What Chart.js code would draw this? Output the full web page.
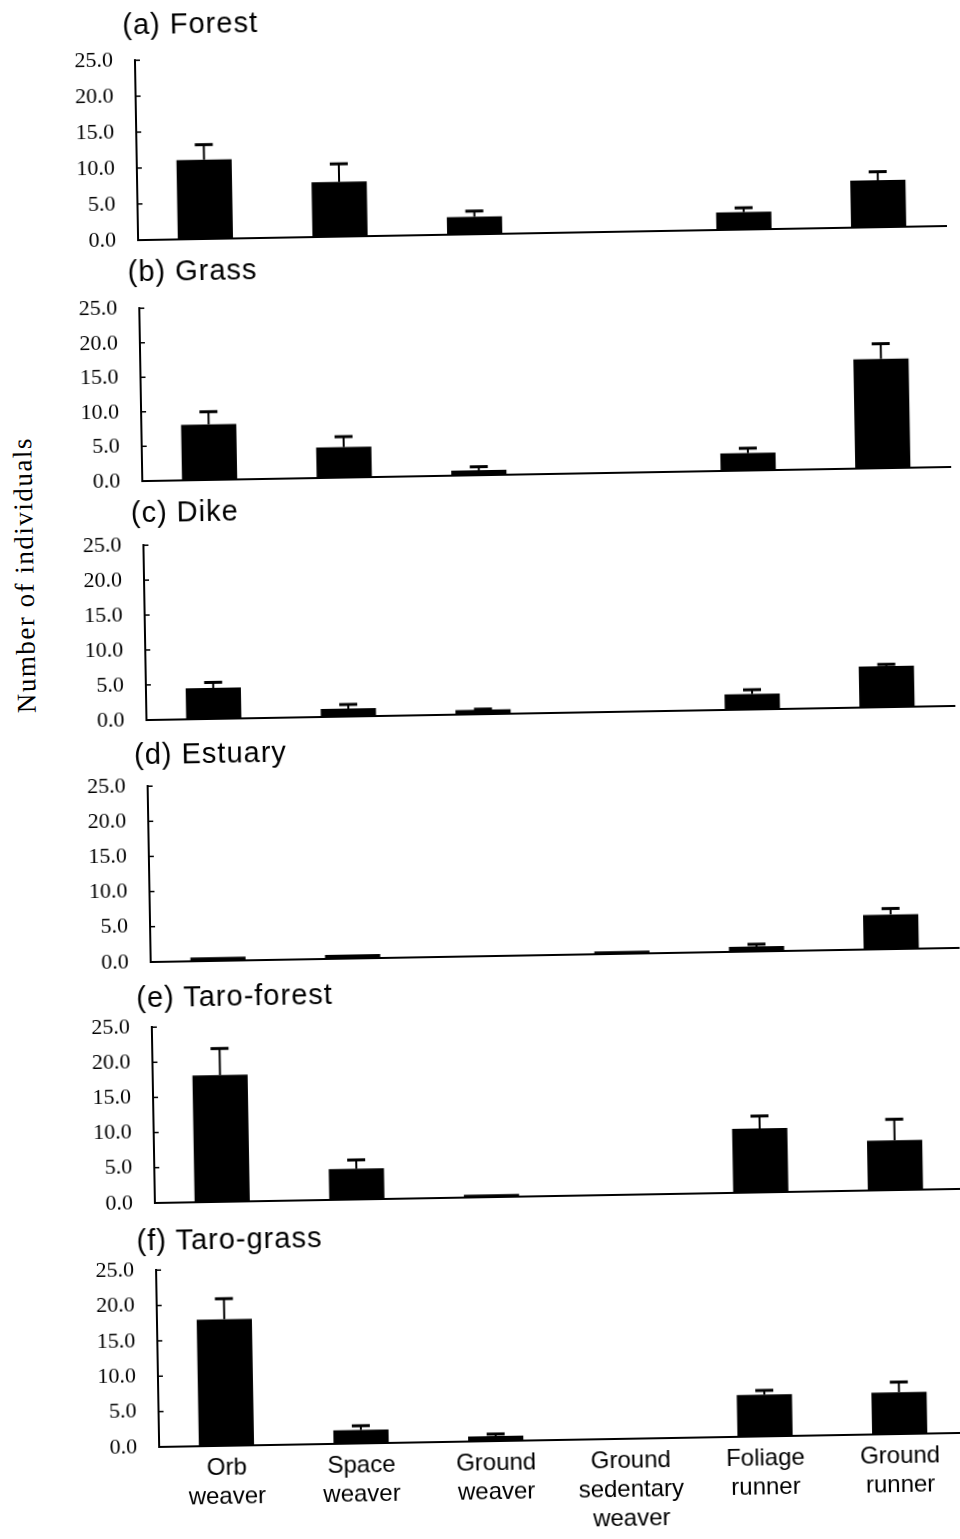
<!DOCTYPE html>
<html><head><meta charset="utf-8">
<script src="https://cdn.jsdelivr.net/npm/chart.js@4.4.1/dist/chart.umd.min.js"></script>
<style>
html,body{margin:0;padding:0;background:#fff;overflow:hidden;width:960px;height:1539px;}
#page{position:relative;width:1000px;height:1600px;transform:rotate(-1deg);transform-origin:150px 750px;}
canvas{position:absolute;left:0;}
.ttl{position:absolute;font-family:"Liberation Sans",Arial,sans-serif;font-size:29px;letter-spacing:1px;line-height:1;white-space:nowrap;color:#000;}
#ylab{position:absolute;left:28px;top:573px;transform:translate(-50%,-50%) rotate(-90deg);font-family:"Liberation Serif","Times New Roman",serif;font-size:27px;letter-spacing:1.5px;white-space:nowrap;color:#000;}
</style></head><body>
<div id="page"><div id="ylab">Number of individuals</div></div>
<script>
// ---- data ----
const categories = [['Orb','weaver'],['Space','weaver'],['Ground','weaver'],['Ground','sedentary','weaver'],['Foliage','runner'],['Ground','runner']];
const yTickLabels = ['0.0','5.0','10.0','15.0','20.0','25.0'];
const panelTitles = ['(a) Forest','(b) Grass','(c) Dike','(d) Estuary','(e) Taro-forest','(f) Taro-grass'];

const forest        = [11.0, 7.6, 2.4, 0, 2.4, 6.5];
const forestErr     = [2.1, 2.5, 0.8, 0, 0.6, 1.2];
const grass         = [8.0, 4.4, 0.7, 0, 2.5, 15.8];
const grassErr      = [1.85, 1.5, 0.5, 0, 0.7, 2.2];
const dike          = [4.4, 1.1, 0.6, 0, 2.2, 5.85];
const dikeErr       = [0.8, 0.6, 0.1, 0, 0.6, 0.25];
const estuary       = [0.5, 0.55, 0, 0.35, 0.7, 4.9];
const estuaryErr    = [0, 0, 0, 0, 0.3, 0.85];
const taroForest    = [18.0, 4.35, 0.35, 0, 9.1, 7.05];
const taroForestErr = [3.8, 1.25, 0, 0, 1.75, 3.0];
const taroGrass     = [17.9, 1.9, 0.7, 0, 5.9, 5.9];
const taroGrassErr  = [2.9, 0.6, 0.3, 0, 0.6, 1.45];

const seriesValues = [forest, grass, dike, estuary, taroForest, taroGrass];
const seriesErrors = [forestErr, grassErr, dikeErr, estuaryErr, taroForestErr, taroGrassErr];

// ---- layout (positions only) ----
const layout = [
  {y25:60,   y0:240,  tx:135, ty:24},
  {y25:308,  y0:481,  tx:136, ty:271},
  {y25:545,  y0:720,  tx:135, ty:512},
  {y25:786,  y0:962,  tx:134, ty:754},
  {y25:1027, y0:1203, tx:132, ty:997},
  {y25:1270, y0:1447, tx:128, ty:1240}
];
const AXIS_X = 147, PLOT_W = 808, CANVAS_W = 1000, XAXIS_H = 100;

const errorBars = {
  id: 'errorBars',
  afterDatasetsDraw(chart) {
    const ctx = chart.ctx, ys = chart.scales.y;
    const ds = chart.data.datasets[0];
    const meta = chart.getDatasetMeta(0);
    ctx.save();
    ctx.strokeStyle = '#000';
    meta.data.forEach((el, i) => {
      const v = ds.data[i], e = ds.errors[i];
      if (!e) return;
      const x = el.x, yb = ys.getPixelForValue(v), yt = ys.getPixelForValue(v + e);
      ctx.lineWidth = 2;
      ctx.beginPath(); ctx.moveTo(x, yb); ctx.lineTo(x, yt); ctx.stroke();
      ctx.lineWidth = 3;
      ctx.beginPath(); ctx.moveTo(x - 9, yt); ctx.lineTo(x + 9, yt); ctx.stroke();
    });
    // inward tick marks on the y axis
    ctx.lineWidth = 1.5;
    const left = chart.chartArea.left;
    ys.ticks.forEach(t => {
      if (t.value === 0) return;
      const y = ys.getPixelForValue(t.value);
      ctx.beginPath(); ctx.moveTo(left, y); ctx.lineTo(left + 5, y); ctx.stroke();
    });
    ctx.restore();
  }
};

function makeConfig(p, last) {
  return {
    type: 'bar',
    data: {
      labels: categories,
      datasets: [{
        data: seriesValues[p],
        errors: seriesErrors[p],
        backgroundColor: '#000',
        borderWidth: 0,
        barPercentage: 0.41,
        categoryPercentage: 1.0
      }]
    },
    options: {
      responsive: false,
      maintainAspectRatio: false,
      animation: false,
      devicePixelRatio: 1,
      layout: { padding: { left: 0, top: 0, right: CANVAS_W - AXIS_X - PLOT_W, bottom: 0 } },
      plugins: { legend: { display: false }, tooltip: { enabled: false }, title: { display: false } },
      scales: {
        x: {
          grid: { display: false, drawTicks: false },
          border: { display: true, color: '#000', width: 2 },
          ticks: {
            display: last,
            autoSkip: false,
            maxRotation: 0,
            minRotation: 0,
            padding: 8,
            color: '#000',
            font: { family: '"Liberation Sans", Arial, sans-serif', size: 24, lineHeight: 1.2 }
          },
          afterFit: s => { s.height = last ? XAXIS_H : 0; }
        },
        y: {
          min: 0, max: 25,
          grid: { display: false, drawTicks: false },
          border: { display: true, color: '#000', width: 2 },
          ticks: {
            stepSize: 5,
            padding: 22,
            color: '#000',
            font: { family: '"Liberation Serif", "Times New Roman", serif', size: 22 },
            callback: (v, i) => yTickLabels[i]
          },
          afterFit: s => { s.width = AXIS_X; }
        }
      }
    },
    plugins: [errorBars]
  };
}

function makeCanvas(h) {
  const cv = document.createElement('canvas');
  cv.width = CANVAS_W; cv.height = h;
  cv.style.width = CANVAS_W + 'px'; cv.style.height = h + 'px';
  page.appendChild(cv);
  return cv;
}

const page = document.getElementById('page');
layout.forEach((L, p) => {
  const last = p === layout.length - 1;
  const plotH = L.y0 - L.y25;
  const h0 = plotH + (last ? XAXIS_H + 40 : 40);

  // pass 1: measure the space Chart.js reserves around the plot area
  const probe = makeCanvas(h0);
  const pc = new Chart(probe, makeConfig(p, last));
  const topGap = pc.chartArea.top;
  const botGap = h0 - pc.chartArea.bottom;
  pc.destroy();
  probe.remove();

  // pass 2: canvas sized so that the plot area spans exactly plotH
  const h = Math.round(plotH + topGap + botGap);
  const cv = makeCanvas(h);
  const chart = new Chart(cv, makeConfig(p, last));
  cv.style.top = (L.y25 - chart.chartArea.top) + 'px';

  const t = document.createElement('div');
  t.className = 'ttl';
  t.textContent = panelTitles[p];
  t.style.left = L.tx + 'px';
  t.style.top = (L.ty - 14.5) + 'px';
  page.appendChild(t);
});
</script>
</body></html>
